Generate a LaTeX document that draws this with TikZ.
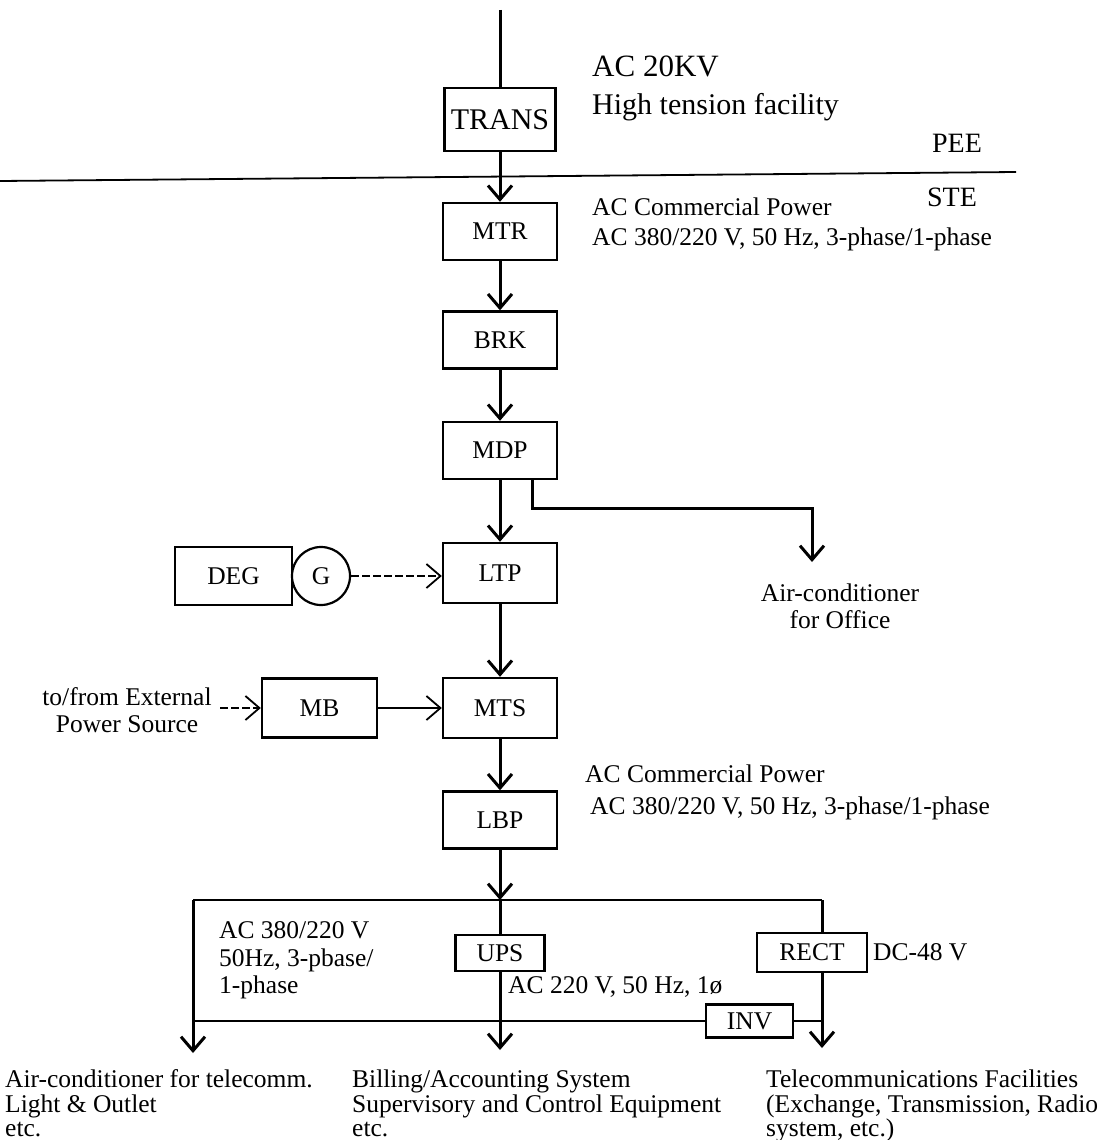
\documentclass[tikz,border=0pt]{standalone}
\usepackage{fontspec}
\setmainfont{Liberation Serif}
\usetikzlibrary{arrows.meta}
\begin{document}
\begin{tikzpicture}[x=1pt,y=-1pt,
  box/.style={draw,line width=2.4pt,minimum width=114pt,minimum height=57pt,inner sep=0pt,font=\fontsize{25.5}{30}\selectfont},
  sbox/.style={draw,line width=2.2pt,inner sep=0pt,font=\fontsize{25.5}{30}\selectfont},
  lbl/.style={anchor=base west,inner sep=0pt,font=\fontsize{25.5}{30}\selectfont},
  wire/.style={line width=3pt},
  thinw/.style={line width=1.8pt},
  dsh/.style={dash pattern=on 8pt off 3pt},
  arr/.style={-{Straight Barb[length=14pt,width=24pt]}},
]
\useasboundingbox (0,0) rectangle (1106,1140);

% main chain
\coordinate (top) at (500,10);
\node[box,minimum width=111pt,minimum height=63pt,font=\fontsize{30}{36}\selectfont] (trans) at (500,119.5) {TRANS};
\node[box] (mtr) at (500,231.5) {MTR};
\node[box] (brk) at (500,340) {BRK};
\node[box] (mdp) at (500,450.5) {MDP};
\node[box,minimum height=60pt] (ltp) at (500,573) {LTP};
\node[box,minimum height=60pt] (mts) at (500,708) {MTS};
\node[box] (lbp) at (500,820) {LBP};

\draw[wire] (top) -- (trans);
\draw[wire,arr] (trans) -- (mtr);
\draw[wire,arr] (mtr) -- (brk);
\draw[wire,arr] (brk) -- (mdp);
\draw[wire,arr] (mdp) -- (ltp);
\draw[wire,arr] (ltp) -- (mts);
\draw[wire,arr] (mts) -- (lbp);

% PEE / STE separator
\coordinate (sepL) at (0,181);
\coordinate (sepR) at (1016,172);
\draw[thinw] (sepL) -- (sepR);
\node[inner sep=0pt,font=\fontsize{28}{32}\selectfont] (pee) at (957,143) {PEE};
\node[inner sep=0pt,font=\fontsize{28}{32}\selectfont] (ste) at (952,197) {STE};

% top labels
\node[anchor=base west,inner sep=0pt,font=\fontsize{31}{36}\selectfont] (ac20) at (592,76) {AC 20KV};
\node[anchor=base west,inner sep=0pt,font=\fontsize{30}{36}\selectfont] (htf) at (592,114) {High tension facility};
\node[lbl] (acc1) at (592,215) {AC Commercial Power};
\node[lbl] (acv1) at (592,245) {AC 380/220 V, 50 Hz, 3-phase/1-phase};

% MDP branch
\coordinate (acoff) at (812,562);
\draw[wire,arr] ([xshift=32pt]mdp.south) -- ++(0,28) -| (acoff);
\node[inner sep=0pt,font=\fontsize{25.5}{30}\selectfont] (aco1) at (840,593) {Air-conditioner};
\node[inner sep=0pt,font=\fontsize{25.5}{30}\selectfont] (aco2) at (840,620) {for Office};

% DEG / G
\node[box,minimum width=117pt,minimum height=58pt] (deg) at (233.5,576) {DEG};
\node[draw,circle,line width=2.2pt,minimum size=58pt,inner sep=0pt,font=\fontsize{25.5}{30}\selectfont] (g) at (321,576) {G};
\draw[thinw,dsh,arr] (g.east) -- (g.east -| ltp.west);

% MB
\node[box,minimum width=115pt,minimum height=59pt] (mb) at (319.5,708) {MB};
\coordinate (ext) at (220,708);
\draw[thinw,dsh,arr] (ext) -- (mb.west);
\draw[thinw,arr] (mb.east) -- (mts.west);
\node[inner sep=0pt,font=\fontsize{25.5}{30}\selectfont] (ext1) at (127,697) {to/from External};
\node[inner sep=0pt,font=\fontsize{25.5}{30}\selectfont] (ext2) at (127,724) {Power Source};

% second AC label
\node[lbl] (acc2) at (585,782) {AC Commercial Power};
\node[lbl] (acv2) at (590,814) {AC 380/220 V, 50 Hz, 3-phase/1-phase};

% bus
\coordinate (busc) at (500,900);
\coordinate (busL) at (193,900);
\coordinate (busR) at (822,900);
\draw[wire,arr] (lbp) -- (busc);
\draw[thinw] (busL) -- (busR);

\node[sbox,minimum width=89pt,minimum height=36pt] (ups) at (500,953) {UPS};
\node[sbox,minimum width=110pt,minimum height=39pt] (rect) at (812,952.5) {RECT};
\node[sbox,minimum width=87pt,minimum height=33pt] (inv) at (749.5,1021) {INV};

\coordinate (loadA) at (193,1053);
\coordinate (loadB) at (500,1050);
\coordinate (loadC) at (822,1048);
\coordinate (invL) at (193,1021);

\draw[wire,arr] (busL) -- (loadA);
\draw[wire] (busc) -- (ups);
\draw[wire,arr] (ups) -- (loadB);
\draw[wire] (busR) -- (busR |- rect.north);
\draw[wire,arr] (busR |- rect.south) -- (loadC);
\draw[thinw] (inv.west) -- (invL);
\draw[thinw] (inv.east) -- (inv.east -| busR);

% bus labels
\node[lbl] (b1) at (219,938) {AC 380/220 V};
\node[lbl] (b2) at (219,966) {50Hz, 3-pbase/};
\node[lbl] (b3) at (219,993) {1-phase};
\node[lbl] (upsv) at (508,993) {AC 220 V, 50 Hz, 1ø};
\node[lbl] (dcv) at (873,960) {DC-48 V};

% load labels
\node[lbl] (la1) at (5,1087) {Air-conditioner for telecomm.};
\node[lbl] (la2) at (5,1112) {Light \& Outlet};
\node[lbl] (la3) at (5,1136) {etc.};
\node[lbl] (lb1) at (352,1087) {Billing/Accounting System};
\node[lbl] (lb2) at (352,1112) {Supervisory and Control Equipment};
\node[lbl] (lb3) at (352,1136) {etc.};
\node[lbl] (lc1) at (766,1087) {Telecommunications Facilities};
\node[lbl] (lc2) at (766,1112) {(Exchange, Transmission, Radio};
\node[lbl] (lc3) at (766,1136) {system, etc.)};
\end{tikzpicture}
\end{document}
